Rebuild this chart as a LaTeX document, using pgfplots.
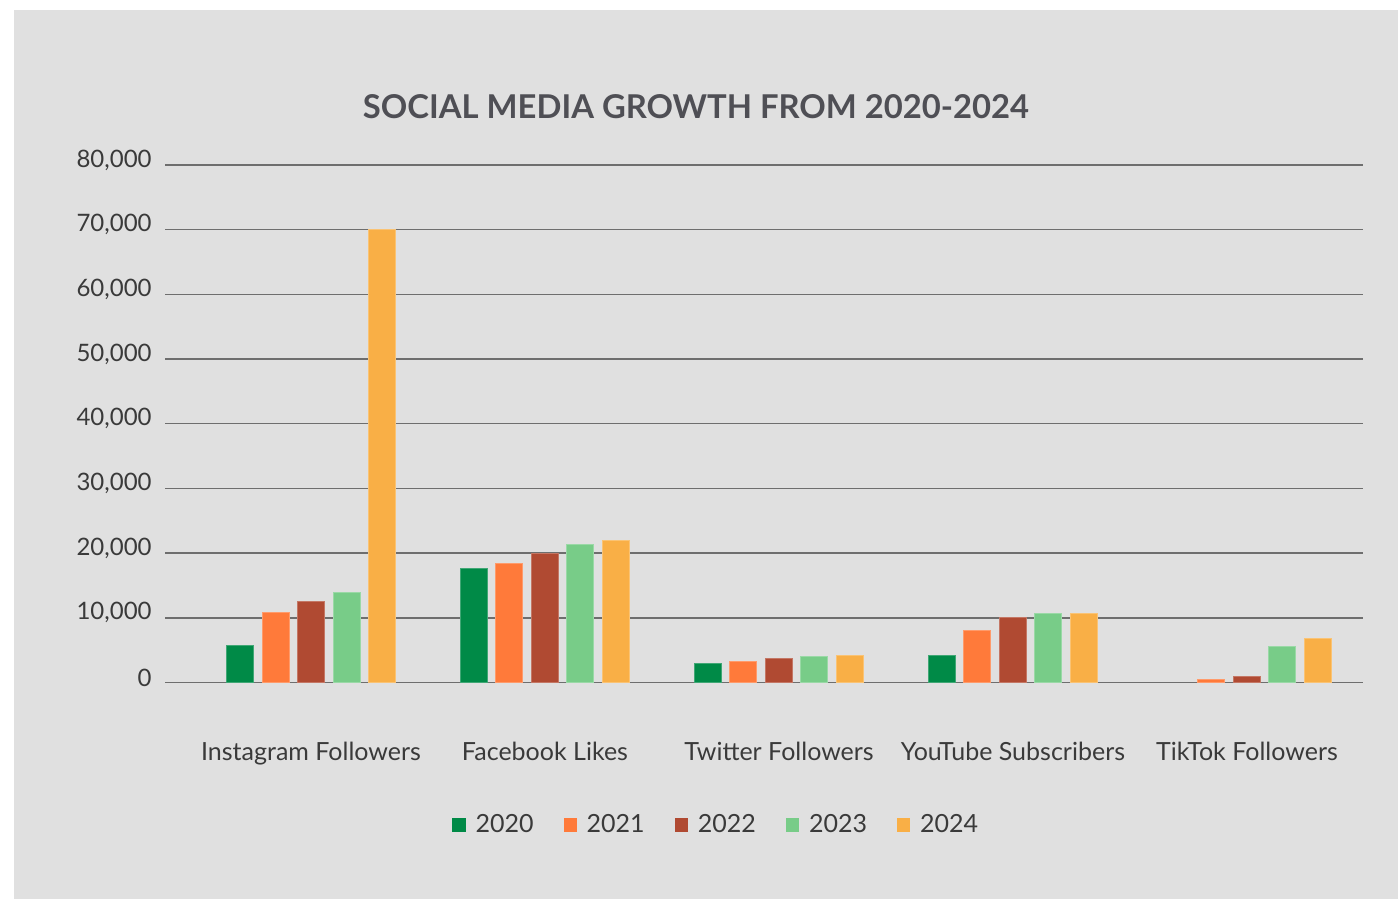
\documentclass[border=0pt]{standalone}
\usepackage{fontspec}
\setmainfont{Lato}
\usepackage{pgfplots}
\usepackage{pgfplotstable}
\pgfplotsset{compat=1.18}

\definecolor{bg}{HTML}{E0E0E0}
\definecolor{gridc}{HTML}{6E6E6E}
\definecolor{txt}{HTML}{3A3A3A}
\definecolor{titlec}{HTML}{4F4F55}
\definecolor{c2020}{HTML}{008A47}
\definecolor{c2021}{HTML}{FF7A3A}
\definecolor{c2022}{HTML}{B04A32}
\definecolor{c2023}{HTML}{78CC88}
\definecolor{c2024}{HTML}{F9AF46}

% followers per platform and year
\pgfplotstableread{
x y2020 y2021 y2022 y2023 y2024
0 5650  10850 12500 13950 70000
1 17600 18400 20000 21300 22000
2 3000  3250  3700  4000  4200
3 4100  8000  10000 10650 10650
4 nan   450   900   5500  6850
}\social

\begin{document}
\begin{tikzpicture}
\useasboundingbox (0bp,0bp) rectangle (699bp,449.5bp);
\fill[white] (0bp,0bp) rectangle (699bp,449.5bp);
\fill[bg] (7bp,0bp) rectangle (699bp,444.5bp);
\node[anchor=base, text=titlec, font=\bfseries\fontsize{16.4bp}{18bp}\selectfont, inner sep=0]
  at (348bp,390.3bp) {SOCIAL MEDIA GROWTH FROM 2020-2024};
\begin{axis}[
    at={(82.5bp,108.25bp)}, anchor=south west,
    scale only axis,
    width=599bp, height=258.75bp,
    ybar=4.25bp, bar width=13.5bp,
    xmin=-0.624, xmax=4.496,
    ymin=0, ymax=80000,
    ytick={0,10000,...,80000},
    scaled y ticks=false,
    /pgf/number format/.cd, 1000 sep={,}, assume math mode=true, /pgfplots/.cd,
    xtick={0,1,2,3,4},
    xticklabels={Instagram Followers, Facebook Likes, Twitter Followers, YouTube Subscribers, TikTok Followers},
    ymajorgrids, grid style={gridc, line width=0.75bp},
    axis line style={draw=none},
    major tick style={draw=none},
    tick label style={text=txt},
    yticklabel style={anchor=east, inner sep=0, xshift=-6.5bp, yshift=2.5bp, font=\fontsize{12bp}{14bp}\selectfont},
    xticklabel style={anchor=base, inner sep=0, yshift=-34.5bp, font=\fontsize{12.5bp}{14bp}\selectfont},
    legend columns=5,
    legend style={at={(0.4610,-0.2754)}, anchor=center, draw=none, fill=none,
      font=\fontsize{12.5bp}{14bp}\selectfont, text=txt,
      /tikz/every odd column/.append style={column sep=3bp},
      /tikz/every even column/.append style={column sep=13bp}},
    legend image code/.code={\draw[#1, draw=none] (0bp,-3.3bp) rectangle (6.6bp,3.3bp);},
]
\addplot[fill=c2020, draw=c2020!75!white, line width=0.5bp] table[x=x, y=y2020] {\social};
\addplot[fill=c2021, draw=c2021!75!white, line width=0.5bp] table[x=x, y=y2021] {\social};
\addplot[fill=c2022, draw=c2022!75!white, line width=0.5bp] table[x=x, y=y2022] {\social};
\addplot[fill=c2023, draw=c2023!75!white, line width=0.5bp] table[x=x, y=y2023] {\social};
\addplot[fill=c2024, draw=c2024!75!white, line width=0.5bp] table[x=x, y=y2024] {\social};
\legend{2020,2021,2022,2023,2024}
\end{axis}
\end{tikzpicture}
\end{document}
